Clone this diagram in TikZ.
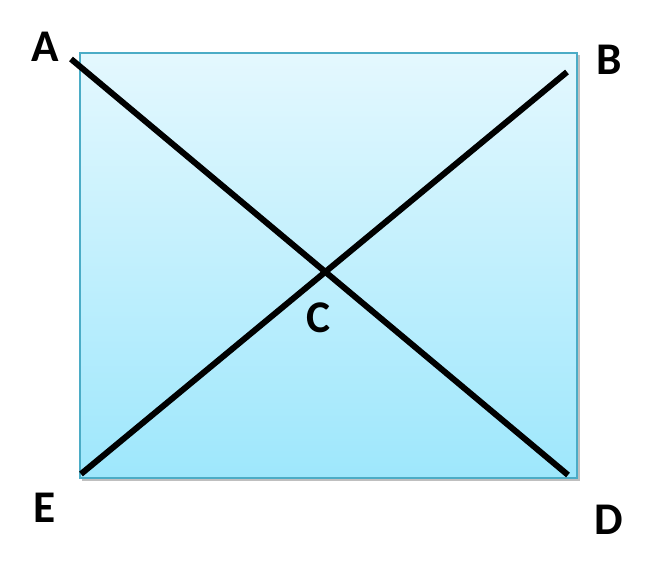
\documentclass[tikz,border=0pt]{standalone}
\usepackage{fontspec}
\setsansfont{Carlito}
\definecolor{boxtop}{RGB}{228,248,254}
\definecolor{boxbot}{RGB}{158,231,252}
\definecolor{boxedge}{RGB}{75,172,198}
\tikzset{
  pt/.style={font=\sffamily\bfseries\fontsize{34}{34}\selectfont, inner sep=0pt},
  diag/.style={line width=4.5pt}
}

\begin{document}
\begin{tikzpicture}[x=0.75pt,y=-0.75pt]
  \useasboundingbox (0,0) rectangle (661,579);
  % panel
  \fill[black!25] (82,55) rectangle (580,481);
  \shade[top color=boxtop,bottom color=boxbot,draw=boxedge,line width=1.5pt]
    (80,53) rectangle (577,478);
  % end points of the two lines
  \coordinate (a) at (71,59);
  \coordinate (d) at (568,475);
  \coordinate (b) at (567,72);
  \coordinate (e) at (81,474);
  \draw[diag] (a) -- (d);
  \draw[diag] (b) -- (e);
  % labels
  \node[pt] (A) at (45,47) {A};
  \node[pt] (B) at (609,60) {B};
  \node[pt] (C) at (318,318) {C};
  \node[pt] (D) at (609,520) {D};
  \node[pt] (E) at (45,508) {E};
\end{tikzpicture}
\end{document}
